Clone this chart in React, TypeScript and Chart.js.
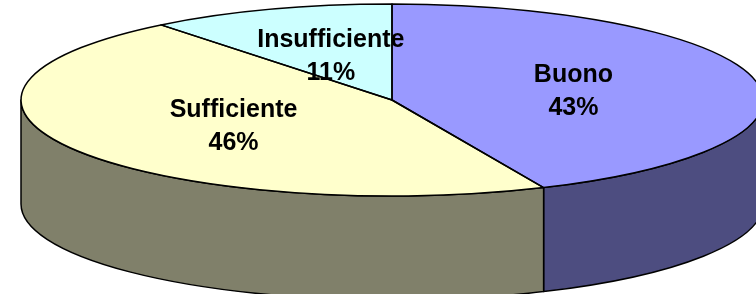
import React, { useEffect, useRef } from "react";
import { Chart, registerables } from "chart.js";

Chart.register(...registerables);

const categories = ["Buono", "Sufficiente", "Insufficiente"];
const values = [43.3, 46.0, 10.7];
const topColors = ["#9999FF", "#FFFFCC", "#CCFFFF"];
const sideColors = ["#4D4D80", "#80806A", "#668080"];

const CX = 392;
const CY = 100;
const RX = 371;
const RY = 96;
const DEPTH = 104;

const pie3d = {
  id: "pie3d",
  beforeDatasetsDraw(chart: any) {
    const ctx = chart.ctx as CanvasRenderingContext2D;
    const meta = chart.getDatasetMeta(0);
    const arcs = meta.data as any[];
    const data = chart.data.datasets[0].data as number[];
    const total = data.reduce((a, b) => a + b, 0);
    ctx.save();
    ctx.lineWidth = 1.5;
    ctx.strokeStyle = "#000000";
    ctx.lineJoin = "round";
    // side walls (front half only: angles 0..PI)
    arcs.forEach((arc, i) => {
      const s = Math.max(arc.startAngle, 0);
      const e = Math.min(arc.endAngle, Math.PI);
      if (e <= s) return;
      ctx.beginPath();
      ctx.ellipse(CX, CY, RX, RY, 0, s, e, false);
      ctx.lineTo(CX + RX * Math.cos(e), CY + DEPTH + RY * Math.sin(e));
      ctx.ellipse(CX, CY + DEPTH, RX, RY, 0, e, s, true);
      ctx.closePath();
      ctx.fillStyle = sideColors[i];
      ctx.fill();
      ctx.stroke();
    });
    const topPath = (arc: any) => {
      ctx.beginPath();
      ctx.moveTo(CX, CY);
      ctx.ellipse(CX, CY, RX, RY, 0, arc.startAngle, arc.endAngle, false);
      ctx.closePath();
    };
    // top faces fill
    arcs.forEach((arc, i) => {
      topPath(arc);
      ctx.fillStyle = topColors[i];
      ctx.fill();
    });
    // labels
    ctx.fillStyle = "#000000";
    ctx.font = "bold 25px 'Liberation Sans', Arial, sans-serif";
    ctx.textAlign = "center";
    ctx.textBaseline = "alphabetic";
    arcs.forEach((arc, i) => {
      const mid = (arc.startAngle + arc.endAngle) / 2;
      const x = CX + 0.5 * RX * Math.cos(mid);
      const y = CY + 0.5 * RY * Math.sin(mid);
      const pct = Math.round((data[i] / total) * 100) + "%";
      ctx.fillText(categories[i], x, y - 8);
      ctx.fillText(pct, x, y + 25.5);
    });
    // top outlines over labels
    arcs.forEach((arc) => {
      topPath(arc);
      ctx.stroke();
    });
    ctx.restore();
    return false;
  },
};

export default function App() {
  const ref = useRef<HTMLCanvasElement | null>(null);
  useEffect(() => {
    document.body.style.margin = "0";
    const chart = new Chart(ref.current as HTMLCanvasElement, {
      type: "pie",
      data: {
        labels: categories,
        datasets: [{ data: values, backgroundColor: topColors, borderWidth: 0 }],
      },
      options: {
        responsive: false,
        animation: false,
        plugins: { legend: { display: false }, tooltip: { enabled: false } },
      },
      plugins: [pie3d as any],
    });
    return () => chart.destroy();
  }, []);
  return (
    <div style={{ position: "fixed", left: 0, top: 0, width: 756, height: 294, background: "#fff" }}>
      <canvas ref={ref} width={756} height={294} />
    </div>
  );
}
